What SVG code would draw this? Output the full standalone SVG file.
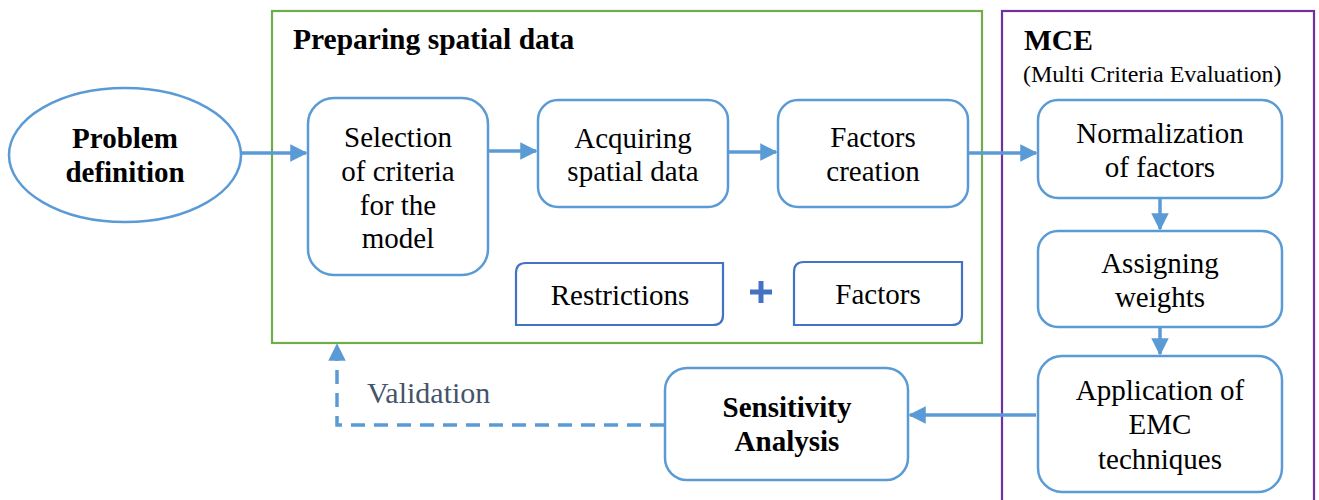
<svg xmlns="http://www.w3.org/2000/svg" width="1319" height="500" viewBox="0 0 1319 500" font-family="'Liberation Serif', serif">
<defs>
<marker id="ah" viewBox="0 0 10 10" refX="9" refY="5" markerWidth="5" markerHeight="5" markerUnits="strokeWidth" orient="auto">
<path d="M0,0 L10,5 L0,10 z" fill="#5b9bd5"/>
</marker>
<style>
.node{fill:#fff;stroke:#5b9bd5;stroke-width:2.5}
.rbox{fill:#fff;stroke:#4472c4;stroke-width:2.2}
text{font-family:"Liberation Serif","Times New Roman",serif}
.lbl{font-size:29px;fill:#000;text-anchor:middle}
.bold{font-weight:bold}
.conn{stroke:#5b9bd5;stroke-width:3.5;fill:none}
</style>
</defs>
<rect width="1319" height="500" fill="#fff"/>
<g id="group-prep">
<rect x="272" y="11" width="710" height="332" fill="none" stroke="#70ad47" stroke-width="2.2"/>
<text x="293" y="49" font-size="29.5" font-weight="bold">Preparing spatial data</text>
</g>
<g id="group-mce">
<rect x="1002" y="11" width="312" height="495" fill="none" stroke="#7030a0" stroke-width="2.2"/>
<text x="1024" y="50" font-size="29.5" font-weight="bold">MCE</text>
<text x="1023" y="82" font-size="24">(Multi Criteria Evaluation)</text>
</g>
<g id="connectors">
<line class="conn" x1="241" y1="153" x2="306" y2="153" marker-end="url(#ah)"/>
<line class="conn" x1="488" y1="151" x2="536" y2="151" marker-end="url(#ah)"/>
<line class="conn" x1="728" y1="152" x2="776" y2="152" marker-end="url(#ah)"/>
<line class="conn" x1="968" y1="153" x2="1036" y2="153" marker-end="url(#ah)"/>
<line class="conn" x1="1160" y1="198" x2="1160" y2="229" marker-end="url(#ah)"/>
<line class="conn" x1="1160" y1="327" x2="1160" y2="354" marker-end="url(#ah)"/>
<line class="conn" x1="1036" y1="415" x2="910" y2="415" marker-end="url(#ah)"/>
<polyline class="conn" points="664,425 337,425 337,345" stroke-dasharray="14,9" marker-end="url(#ah)"/>
<text x="367" y="403" font-size="30" fill="#44546a">Validation</text>
</g>
<g id="problem">
<ellipse class="node" cx="125" cy="155" rx="116" ry="67"/>
<text class="lbl bold" x="125" y="148">Problem</text>
<text class="lbl bold" x="125" y="182">definition</text>
</g>
<g id="selection">
<rect class="node" x="308" y="98" width="180" height="177" rx="26"/>
<text class="lbl" x="398" y="147">Selection</text>
<text class="lbl" x="398" y="181">of criteria</text>
<text class="lbl" x="398" y="215">for the</text>
<text class="lbl" x="398" y="248">model</text>
</g>
<g id="acquiring">
<rect class="node" x="538" y="100" width="190" height="107" rx="20"/>
<text class="lbl" x="633" y="148">Acquiring</text>
<text class="lbl" x="633" y="181">spatial data</text>
</g>
<g id="factors-creation">
<rect class="node" x="778" y="100" width="190" height="107" rx="20"/>
<text class="lbl" x="873" y="147">Factors</text>
<text class="lbl" x="873" y="181">creation</text>
</g>
<g id="restrictions">
<path class="rbox" d="M526,263 H723 V315 Q723,325 713,325 H516 V273 Q516,263 526,263 Z"/>
<text class="lbl" x="620" y="305">Restrictions</text>
</g>
<g id="plus">
<path d="M761,281 V303 M750,292 H772" stroke="#4472c4" stroke-width="5" fill="none"/>
</g>
<g id="factors">
<path class="rbox" d="M804,262 H962 V315 Q962,325 952,325 H794 V272 Q794,262 804,262 Z"/>
<text class="lbl" x="878" y="304">Factors</text>
</g>
<g id="normalization">
<rect class="node" x="1038" y="100" width="244" height="98" rx="20"/>
<text class="lbl" x="1160" y="143">Normalization</text>
<text class="lbl" x="1160" y="177">of factors</text>
</g>
<g id="assigning">
<rect class="node" x="1038" y="231" width="244" height="96" rx="20"/>
<text class="lbl" x="1160" y="273">Assigning</text>
<text class="lbl" x="1160" y="307">weights</text>
</g>
<g id="application">
<rect class="node" x="1038" y="356" width="244" height="136" rx="24"/>
<text class="lbl" x="1160" y="400">Application of</text>
<text class="lbl" x="1160" y="434">EMC</text>
<text class="lbl" x="1160" y="469">techniques</text>
</g>
<g id="sensitivity">
<rect class="node" x="665" y="368" width="243" height="112" rx="22"/>
<text class="lbl bold" x="787" y="417">Sensitivity</text>
<text class="lbl bold" x="787" y="451">Analysis</text>
</g>
</svg>
